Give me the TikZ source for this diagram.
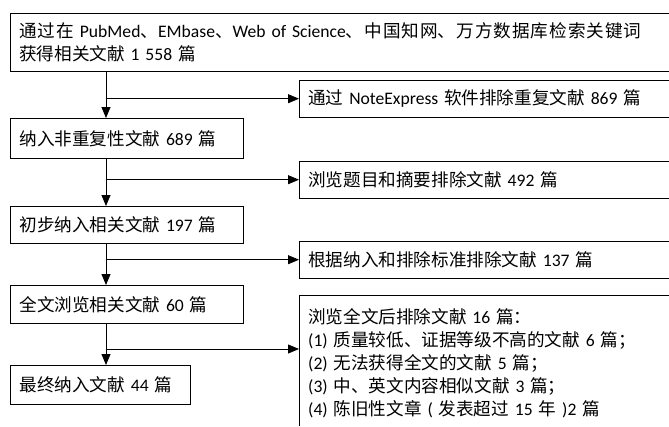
\documentclass[tikz,border=0pt]{standalone}
\usepackage{fontspec}
\setmainfont{Carlito}
\newfontfamily\cjkfont{Noto Sans CJK SC}
\newcommand\zh[1]{{\cjkfont #1}}
\usetikzlibrary{arrows.meta}
\begin{document}
\begin{tikzpicture}[x=1pt,y=-1pt,
  bd/.style={line width=0.8pt, draw=black},
  lbox/.style={bd, anchor=north west, inner xsep=9pt, inner ysep=0pt, align=left, font=\fontsize{17.6}{23}\selectfont},
  obox/.style={anchor=north west, inner xsep=9pt, inner ysep=0pt, align=left, font=\fontsize{17.6}{23}\selectfont},
  jbox/.style={anchor=north west, inner xsep=9pt, inner ysep=0pt, font=\fontsize{17.6}{23}\selectfont},
  arr/.style={line width=0.8pt, -{Triangle[length=11pt,width=9pt]}}]
\useasboundingbox (0,0) rectangle (669,426);
\coordinate (spine) at (106,0);
\coordinate (edge) at (0,426);
% top box (first line justified, as in the reference)
\node[jbox, text width=641pt, minimum height=58pt] (top) at (10,13)
  {\XeTeXlinebreaklocale "zh"\XeTeXlinebreakskip=0pt plus 3pt\tolerance=10000
   \noindent\parindent=0pt\parfillskip=7pt
   \zh{通过在} PubMed\zh{、}EMbase\zh{、}Web of Science\zh{、中国知网、万方数据库检索关键词}\par
   \parfillskip=0pt plus 1fil\noindent
   \zh{获得相关文献} 1 558 \zh{篇}\par};
\draw[bd] (top.north east) -- (top.north west) -- (top.south west) -- (top.south east);
% left column
\node[lbox, text width=215pt, minimum height=40pt] (b2) at (10,118) {\zh{纳入非重复性文献} 689 \zh{篇}};
\node[lbox, text width=215pt, minimum height=37pt] (b3) at (10,206) {\zh{初步纳入相关文献} 197 \zh{篇}};
\node[lbox, text width=215pt, minimum height=38pt] (b4) at (10,285) {\zh{全文浏览相关文献} 60 \zh{篇}};
\node[lbox, text width=162pt, minimum height=39pt] (b5) at (10,365) {\zh{最终纳入文献} 44 \zh{篇}};
% right column
\node[obox, text width=352pt, minimum height=37pt] (r1) at (299,80) {\zh{通过} NoteExpress \zh{软件排除重复文献} 869 \zh{篇}};
\node[obox, text width=352pt, minimum height=37pt] (r2) at (299,161) {\zh{浏览题目和摘要排除文献} 492 \zh{篇}};
\node[obox, text width=352pt, minimum height=37pt] (r3) at (299,241) {\zh{根据纳入和排除标准排除文献} 137 \zh{篇}};
\node[obox, text width=352pt, inner ysep=13pt] (r4) at (299,295)
  {\zh{浏览全文后排除文献} 16 \zh{篇：}\\
   (1) \zh{质量较低、证据等级不高的文献} 6 \zh{篇；}\\
   (2) \zh{无法获得全文的文献} 5 \zh{篇；}\\
   (3) \zh{中、英文内容相似文献} 3 \zh{篇；}\\
   (4) \zh{陈旧性文章} ( \zh{发表超过} 15 \zh{年} )2 \zh{篇}};
\foreach \r in {r1,r2,r3}
  \draw[bd] (\r.north east) -- (\r.north west) -- (\r.south west) -- (\r.south east);
\draw[bd] (r4.north east) -- (r4.north west) -- (r4.north west |- edge);
% connectors
\draw[arr] (top.south -| spine) -- (b2.north -| spine);
\draw[arr] (b2.south -| spine) -- (b3.north -| spine);
\draw[arr] (b3.south -| spine) -- (b4.north -| spine);
\draw[arr] (b4.south -| spine) -- (b5.north -| spine);
\draw[arr] (r1.west -| spine) -- (r1.west);
\draw[arr] (r2.west -| spine) -- (r2.west);
\draw[arr] (r3.west -| spine) -- (r3.west);
\coordinate (j4) at (spine |- 0,349);
\draw[arr] (j4) -- (j4 -| r4.west);
\end{tikzpicture}
\end{document}
